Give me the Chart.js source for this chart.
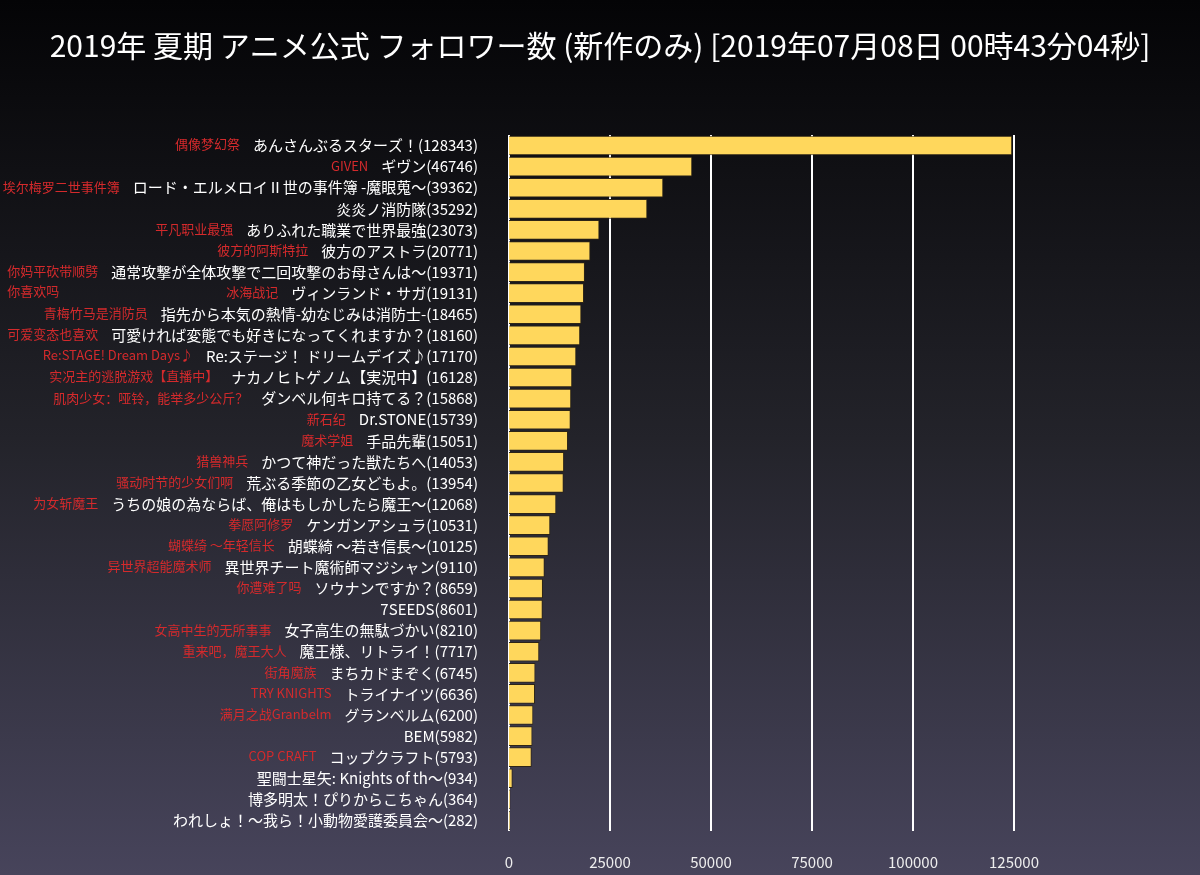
<!DOCTYPE html>
<html>
<head>
<meta charset="utf-8">
<script src="https://cdn.jsdelivr.net/npm/chart.js@4"></script>
<style>
  html, body { margin: 0; padding: 0; background: #000; }
  #chart { display: block; }
</style>
</head>
<body>
<canvas id="chart" width="1200" height="875"></canvas>
<script>
// タイトル (日本語名)
const titles = [
  "あんさんぶるスターズ！", "ギヴン", "ロード・エルメロイⅡ世の事件簿 -魔眼蒐～", "炎炎ノ消防隊",
  "ありふれた職業で世界最強", "彼方のアストラ", "通常攻撃が全体攻撃で二回攻撃のお母さんは～",
  "ヴィンランド・サガ", "指先から本気の熱情-幼なじみは消防士-", "可愛ければ変態でも好きになってくれますか？",
  "Re:ステージ！ ドリームデイズ♪", "ナカノヒトゲノム【実況中】", "ダンベル何キロ持てる？", "Dr.STONE",
  "手品先輩", "かつて神だった獣たちへ", "荒ぶる季節の乙女どもよ。", "うちの娘の為ならば、俺はもしかしたら魔王～",
  "ケンガンアシュラ", "胡蝶綺 ～若き信長～", "異世界チート魔術師マジシャン", "ソウナンですか？", "7SEEDS",
  "女子高生の無駄づかい", "魔王様、リトライ！", "まちカドまぞく", "トライナイツ", "グランベルム", "BEM",
  "コップクラフト", "聖闘士星矢: Knights of th～", "博多明太！ぴりからこちゃん", "われしょ！～我ら！小動物愛護委員会～"
];

// フォロワー数
const followers = [
  128343, 46746, 39362, 35292, 23073, 20771, 19371, 19131, 18465, 18160, 17170,
  16128, 15868, 15739, 15051, 14053, 13954, 12068, 10531, 10125, 9110, 8659, 8601,
  8210, 7717, 6745, 6636, 6200, 5982, 5793, 934, 364, 282
];

// 中国語タイトル (赤字)
const cnTitles = [
  "偶像梦幻祭", "GIVEN", "埃尔梅罗二世事件簿", "", "平凡职业最强", "彼方的阿斯特拉",
  ["你妈平砍带顺劈", "你喜欢吗"], "冰海战记", "青梅竹马是消防员", "可爱变态也喜欢",
  "Re:STAGE! Dream Days♪", "实况主的逃脱游戏【直播中】", "肌肉少女：哑铃，能举多少公斤？", "新石纪",
  "魔术学姐", "猎兽神兵", "骚动时节的少女们啊", "为女斩魔王", "拳愿阿修罗", "蝴蝶绮 ～年轻信长",
  "异世界超能魔术师", "你遭难了吗", "", "女高中生的无所事事", "重来吧，魔王大人", "街角魔族",
  "TRY KNIGHTS", "满月之战Granbelm", "", "COP CRAFT", "", "", ""
];

const xTicks = [0, 25000, 50000, 75000, 100000, 125000];

const chartTitle = "2019年 夏期 アニメ公式 フォロワー数 (新作のみ) [2019年07月08日 00時43分04秒]";

const labels = titles.map((t, i) => t + "(" + followers[i] + ")");

const JP = "'Noto Sans CJK JP', 'Noto Sans', sans-serif";
const CN = "'Noto Sans CJK SC', 'Noto Sans', sans-serif";

// 背景グラデーション + タイトル
const bgPlugin = {
  id: "bg",
  beforeDraw(chart) {
    const ctx = chart.ctx;
    const g = ctx.createLinearGradient(0, 0, 0, chart.height);
    g.addColorStop(0, "#040406");
    g.addColorStop(0.5, "#23232a");
    g.addColorStop(1, "#47445b");
    ctx.save();
    ctx.fillStyle = g;
    ctx.fillRect(0, 0, chart.width, chart.height);
    ctx.fillStyle = "#ffffff";
    ctx.font = "30px " + JP;
    ctx.textAlign = "center";
    ctx.textBaseline = "middle";
    ctx.fillText(chartTitle, chart.width / 2, 46);
    ctx.restore();
  }
};

// 赤い中国語ラベル
const cnPlugin = {
  id: "cnLabels",
  afterDraw(chart) {
    const ctx = chart.ctx;
    const yScale = chart.scales.y;
    const labelRight = 478;
    ctx.save();
    ctx.fillStyle = "#d42a2c";
    ctx.textBaseline = "middle";
    ctx.textAlign = "left";
    cnTitles.forEach((cn, i) => {
      if (!cn || cn.length === 0) return;
      const lines = Array.isArray(cn) ? cn : [cn];
      ctx.font = "15px " + JP;
      const whiteLeft = labelRight - ctx.measureText(labels[i]).width;
      ctx.font = "13px " + CN;
      const w = Math.max(...lines.map(l => ctx.measureText(l).width));
      const x = whiteLeft - 13 - w;
      const y = yScale.getPixelForValue(i) - 1;
      lines.forEach((l, k) => ctx.fillText(l, x, y + k * 20));
    });
    ctx.restore();
  }
};

new Chart(document.getElementById("chart"), {
  type: "bar",
  data: {
    labels: labels,
    datasets: [{
      data: followers,
      xAxisID: "x",
      backgroundColor: "#ffd75c",
      borderColor: "#2e2516",
      borderWidth: 1,
      barPercentage: 0.93,
      categoryPercentage: 1
    }]
  },
  options: {
    indexAxis: "y",
    responsive: false,
    animation: false,
    layout: { padding: { left: 0, right: 186, bottom: 0, top: 135 } },
    plugins: {
      legend: { display: false },
      tooltip: { enabled: false },
      title: { display: false }
    },
    scales: {
      x: {
        display: false,
        min: 0,
        max: 128800
      },
      x2: {
        type: "linear",
        position: "bottom",
        min: 0,
        max: 125000,
        afterBuildTicks(scale) {
          scale.ticks = xTicks.map(v => ({ value: v }));
        },
        afterFit(scale) { scale.height = 44; },
        grid: { color: "#ffffff", lineWidth: 2, tickLength: 0 },
        border: { display: false },
        ticks: {
          color: "#eeeeee",
          padding: 22,
          font: { family: JP, size: 15 },
          callback: v => String(v)
        }
      },
      y: {
        afterFit(scale) { scale.width = 509; },
        grid: { display: false },
        border: { display: false },
        ticks: {
          color: "#ffffff",
          padding: 23,
          autoSkip: false,
          font: { family: JP, size: 15 }
        }
      }
    }
  },
  plugins: [bgPlugin, cnPlugin]
});
</script>
</body>
</html>
